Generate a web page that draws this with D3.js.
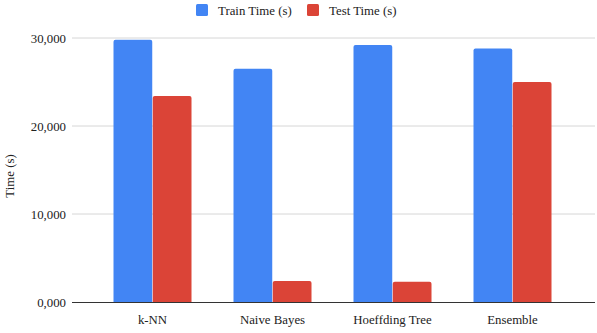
<!DOCTYPE html>
<html>
<head>
<meta charset="utf-8">
<script src="https://cdn.jsdelivr.net/npm/d3@7"></script>
<style>
  html, body { margin: 0; padding: 0; background: #fff; }
</style>
</head>
<body>
<svg id="chart" width="597" height="333"></svg>
<script>
const categories = ["k-NN", "Naive Bayes", "Hoeffding Tree", "Ensemble"];
const seriesNames = ["Train Time (s)", "Test Time (s)"];
const trainTime = [29800, 26500, 29200, 28800];
const testTime = [23400, 2400, 2300, 25000];
const yTicks = [0, 10000, 20000, 30000];
const yTickLabels = ["0,000", "10,000", "20,000", "30,000"];
const colors = ["#4285F4", "#DB4437"];

// pick an available serif font and size it to match Times-like metrics
const ctx = document.createElement("canvas").getContext("2d");
function w(fam, size) { ctx.font = `${size}px ${fam}`; return ctx.measureText("Train Time (s) 30,000").width; }
const baseMono = w("monospace", 40), baseSans = w("sans-serif", 40);
const candidates = ["'Liberation Serif'", "'Times New Roman'", "Tinos", "'DejaVu Serif'", "'Noto Serif'", "serif"];
let FAM = "serif";
for (const c of candidates) {
  const a = w(`${c}, monospace`, 40), b = w(`${c}, sans-serif`, 40);
  if (Math.abs(a - b) < 0.01 && (Math.abs(a - baseMono) > 0.5 || Math.abs(b - baseSans) > 0.5)) { FAM = c; break; }
}
ctx.font = `13px ${FAM}`;
const targetW = 74; // width of "Train Time (s)" in the reference
const measured = ctx.measureText("Train Time (s)").width;
const FS = Math.max(10, Math.min(13, 13 * targetW / measured));
const FONT = FAM + ", serif";

const svg = d3.select("#chart");
const plotLeft = 72, plotRight = 595, plotTop = 38, plotBottom = 302;

const x0 = d3.scaleBand().domain(categories).range([92.5, 572.5]).paddingInner(0.35).paddingOuter(0.175);
const x1 = d3.scaleBand().domain(seriesNames).range([0, x0.bandwidth()]).paddingInner(0.013);
const y = d3.scaleLinear().domain([0, 30000]).range([plotBottom, plotTop]);

// gridlines
svg.append("g").selectAll("line").data(yTicks.filter(d => d > 0)).join("line")
  .attr("x1", plotLeft).attr("x2", plotRight)
  .attr("y1", d => y(d)).attr("y2", d => y(d))
  .attr("stroke", "#d6d6d6").attr("stroke-width", 1);

// y axis labels
const yAxis = d3.axisLeft(y).tickValues(yTicks).tickSize(0).tickPadding(6)
  .tickFormat((d, i) => yTickLabels[i]);
const yg = svg.append("g").attr("transform", `translate(${plotLeft},0)`).call(yAxis)
  .attr("font-family", FONT).attr("font-size", FS);
yg.select(".domain").remove();
yg.selectAll("text").attr("fill", "#222");

// bars
const data = categories.map((c, i) => ({ cat: c, vals: [trainTime[i], testTime[i]] }));
const groups = svg.append("g").selectAll("g").data(data).join("g")
  .attr("transform", d => `translate(${x0(d.cat)},0)`);
groups.selectAll("path").data(d => d.vals.map((v, j) => ({ v, s: seriesNames[j], j }))).join("path")
  .attr("fill", d => colors[d.j])
  .attr("d", d => {
    const bx = x1(d.s), bw = x1.bandwidth(), top = y(d.v), bot = y(0), r = 2;
    return `M${bx},${bot} V${top + r} Q${bx},${top} ${bx + r},${top} H${bx + bw - r} Q${bx + bw},${top} ${bx + bw},${top + r} V${bot} Z`;
  });

// baseline
svg.append("line").attr("x1", plotLeft).attr("x2", plotRight)
  .attr("y1", y(0) + 0.5).attr("y2", y(0) + 0.5)
  .attr("stroke", "#333").attr("stroke-width", 1);

// x axis labels
const xAxis = d3.axisBottom(x0).tickSize(0).tickPadding(13);
const xg = svg.append("g").attr("transform", `translate(0,${plotBottom})`).call(xAxis)
  .attr("font-family", FONT).attr("font-size", FS);
xg.select(".domain").remove();
xg.selectAll("text").attr("fill", "#222");

// y axis title
svg.append("text").attr("transform", `translate(14,176) rotate(-90)`)
  .attr("font-family", FONT).attr("fill", "#222")
  .attr("text-anchor", "middle").attr("font-size", FS).text("Time (s)");

// legend
const legendItems = [{ name: seriesNames[0], x: 196 }, { name: seriesNames[1], x: 307 }];
const lg = svg.append("g").selectAll("g").data(legendItems).join("g")
  .attr("transform", d => `translate(${d.x},4)`);
lg.append("rect").attr("width", 12).attr("height", 12).attr("rx", 1.5)
  .attr("fill", (d, i) => colors[i]);
lg.append("text").attr("x", 22).attr("y", 10.5).attr("font-family", FONT).attr("fill", "#222")
  .attr("font-size", FS).text(d => d.name);
</script>
</body>
</html>
